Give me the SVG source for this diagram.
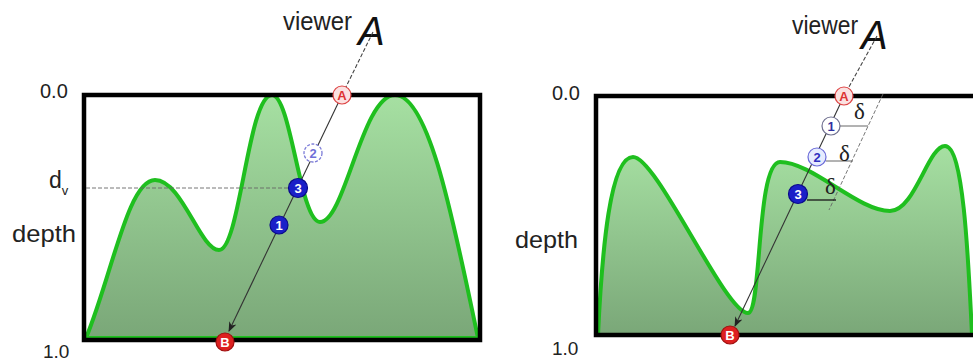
<svg xmlns="http://www.w3.org/2000/svg" width="973" height="363" viewBox="0 0 973 363">
<style>
.lbl{font-family:"Liberation Sans",Arial,sans-serif;fill:#222}
.frame{fill:none;stroke:#000;stroke-width:4.5}
.terrain{stroke:#1fbf1f;stroke-width:4;stroke-linejoin:round}
.ray{stroke:#333;stroke-width:1.1;fill:none}
.rayd{stroke:#444;stroke-width:1.1;fill:none;stroke-dasharray:4 2}
.guide{stroke:#666;stroke-width:0.9;fill:none;stroke-dasharray:4 2}
.tick{stroke:#666;stroke-width:1;fill:none}
.ctext{font-family:"Liberation Sans",Arial,sans-serif;font-size:13px;text-anchor:middle;font-weight:bold}
.redo{fill:#fbe1e1;stroke:#d44}
.redtx{fill:#d33}
.reds{fill:#dd2020;stroke:#a01010}
.blues{fill:#1a1fc8;stroke:#0a0a8a}
.delta{font-family:"Liberation Serif","DejaVu Serif",serif;font-size:23px;fill:#222}
.viewerA{font-family:"Liberation Sans",Arial,sans-serif;font-size:40px;font-style:italic;fill:#111}
</style>
<defs>
<linearGradient id="gfill" x1="0" y1="0" x2="0" y2="1">
<stop offset="0" stop-color="#a6e0a2"/>
<stop offset="1" stop-color="#7aa778"/>
</linearGradient>
<marker id="arr" markerWidth="10" markerHeight="10" refX="9" refY="5" orient="auto" markerUnits="userSpaceOnUse">
<path d="M0,1 L10,5 L0,9 L3,5 Z" fill="#222"/>
</marker>
</defs>

<!-- LEFT PANEL -->
<g id="left-panel">
<path id="left-terrain" class="terrain" fill="url(#gfill)" d="M 86 338 C 112 275, 128 180, 155 180 C 182 180, 200 250, 219 250 C 240 250, 248 95, 272 95 C 291 95, 300 222, 320 222 C 345 222, 362 95, 395 95 C 430 95, 455 230, 478 338 Z"/>
<rect class="frame" x="84" y="95" width="396" height="245"/>
<text class="lbl" x="40" y="98" font-size="20">0.0</text>
<text class="lbl" x="43" y="358" font-size="19">1.0</text>
<text class="lbl" x="12" y="242" font-size="24" textLength="64" lengthAdjust="spacingAndGlyphs">depth</text>
<text class="lbl" x="49" y="188" font-size="23">d<tspan font-size="13" dy="7">v</tspan></text>
<text class="lbl" x="283" y="30" font-size="25" textLength="69" lengthAdjust="spacingAndGlyphs">viewer</text>
<text class="viewerA" x="358" y="45">A</text>
</g>

<g id="left-connectors">
<line class="guide" x1="86" y1="188" x2="290" y2="188"/>
<line class="rayd" x1="373" y1="32" x2="342" y2="95"/>
<line class="ray" x1="342" y1="95" x2="229" y2="331" marker-end="url(#arr)"/>
</g>

<g id="left-node-A"><circle class="redo" cx="342" cy="95" r="9" stroke-width="1.2"/><text class="ctext redtx" x="342" y="100">A</text></g>
<g id="left-node-2"><circle cx="313" cy="153" r="9" fill="#fff" stroke="#7c7cd8" stroke-width="1.3" stroke-dasharray="3 1.5"/><text class="ctext" x="313" y="158" fill="#7070d8">2</text></g>
<g id="left-node-3"><circle class="blues" cx="298" cy="188" r="9.5" stroke-width="1.2"/><text class="ctext" x="298" y="193" fill="#fff">3</text></g>
<g id="left-node-1"><circle class="blues" cx="279" cy="225" r="9" stroke-width="1.2"/><text class="ctext" x="279" y="230" fill="#fff">1</text></g>
<g id="left-node-B"><circle class="reds" cx="225" cy="342" r="9" stroke-width="1.2"/><text class="ctext" x="225" y="347" fill="#fff">B</text></g>

<!-- RIGHT PANEL -->
<g id="right-panel">
<path id="right-terrain" class="terrain" fill="url(#gfill)" d="M 598 335 C 602 250, 610 157, 633 157 C 657 157, 725 313, 748 313 C 762 313, 756 162, 780 162 C 812 162, 858 211, 890 211 C 915 211, 928 146, 945 146 C 963 146, 968 250, 972 335 Z"/>
<rect class="frame" x="596" y="96" width="400" height="239"/>
<text class="lbl" x="552" y="100" font-size="20">0.0</text>
<text class="lbl" x="552" y="355" font-size="19">1.0</text>
<text class="lbl" x="515" y="248" font-size="24" textLength="63" lengthAdjust="spacingAndGlyphs">depth</text>
<text class="lbl" x="792" y="34" font-size="25" textLength="66" lengthAdjust="spacingAndGlyphs">viewer</text>
<text class="viewerA" x="861" y="49">A</text>
</g>

<g id="right-connectors">
<line class="rayd" x1="877" y1="36" x2="844" y2="96"/>
<line class="ray" x1="844" y1="96" x2="735" y2="326" marker-end="url(#arr)"/>
<line class="guide" x1="883" y1="94" x2="829" y2="210"/>
<line class="tick" x1="840" y1="126" x2="868" y2="126"/>
<line class="tick" x1="826" y1="161" x2="853" y2="161"/>
<line stroke="#222" stroke-width="1.4" x1="807" y1="200" x2="836" y2="200"/>
<text class="delta" x="854" y="119">δ</text>
<text class="delta" x="839" y="161">δ</text>
<text class="delta" x="825" y="194">δ</text>
</g>

<g id="right-node-A"><circle class="redo" cx="844" cy="96" r="9" stroke-width="1.2"/><text class="ctext redtx" x="844" y="101">A</text></g>
<g id="right-node-1"><circle cx="831" cy="126" r="9" fill="#fff" stroke="#707090" stroke-width="1.2"/><text class="ctext" x="831" y="131" fill="#3030a0">1</text></g>
<g id="right-node-2"><circle cx="817" cy="157" r="9" fill="#e6ecff" stroke="#6a6ad8" stroke-width="1.2"/><text class="ctext" x="817" y="162" fill="#3030c0">2</text></g>
<g id="right-node-3"><circle class="blues" cx="798" cy="194" r="9.5" stroke-width="1.2"/><text class="ctext" x="798" y="199" fill="#fff">3</text></g>
<g id="right-node-B"><circle class="reds" cx="730" cy="335" r="9" stroke-width="1.2"/><text class="ctext" x="730" y="340" fill="#fff">B</text></g>
</svg>
